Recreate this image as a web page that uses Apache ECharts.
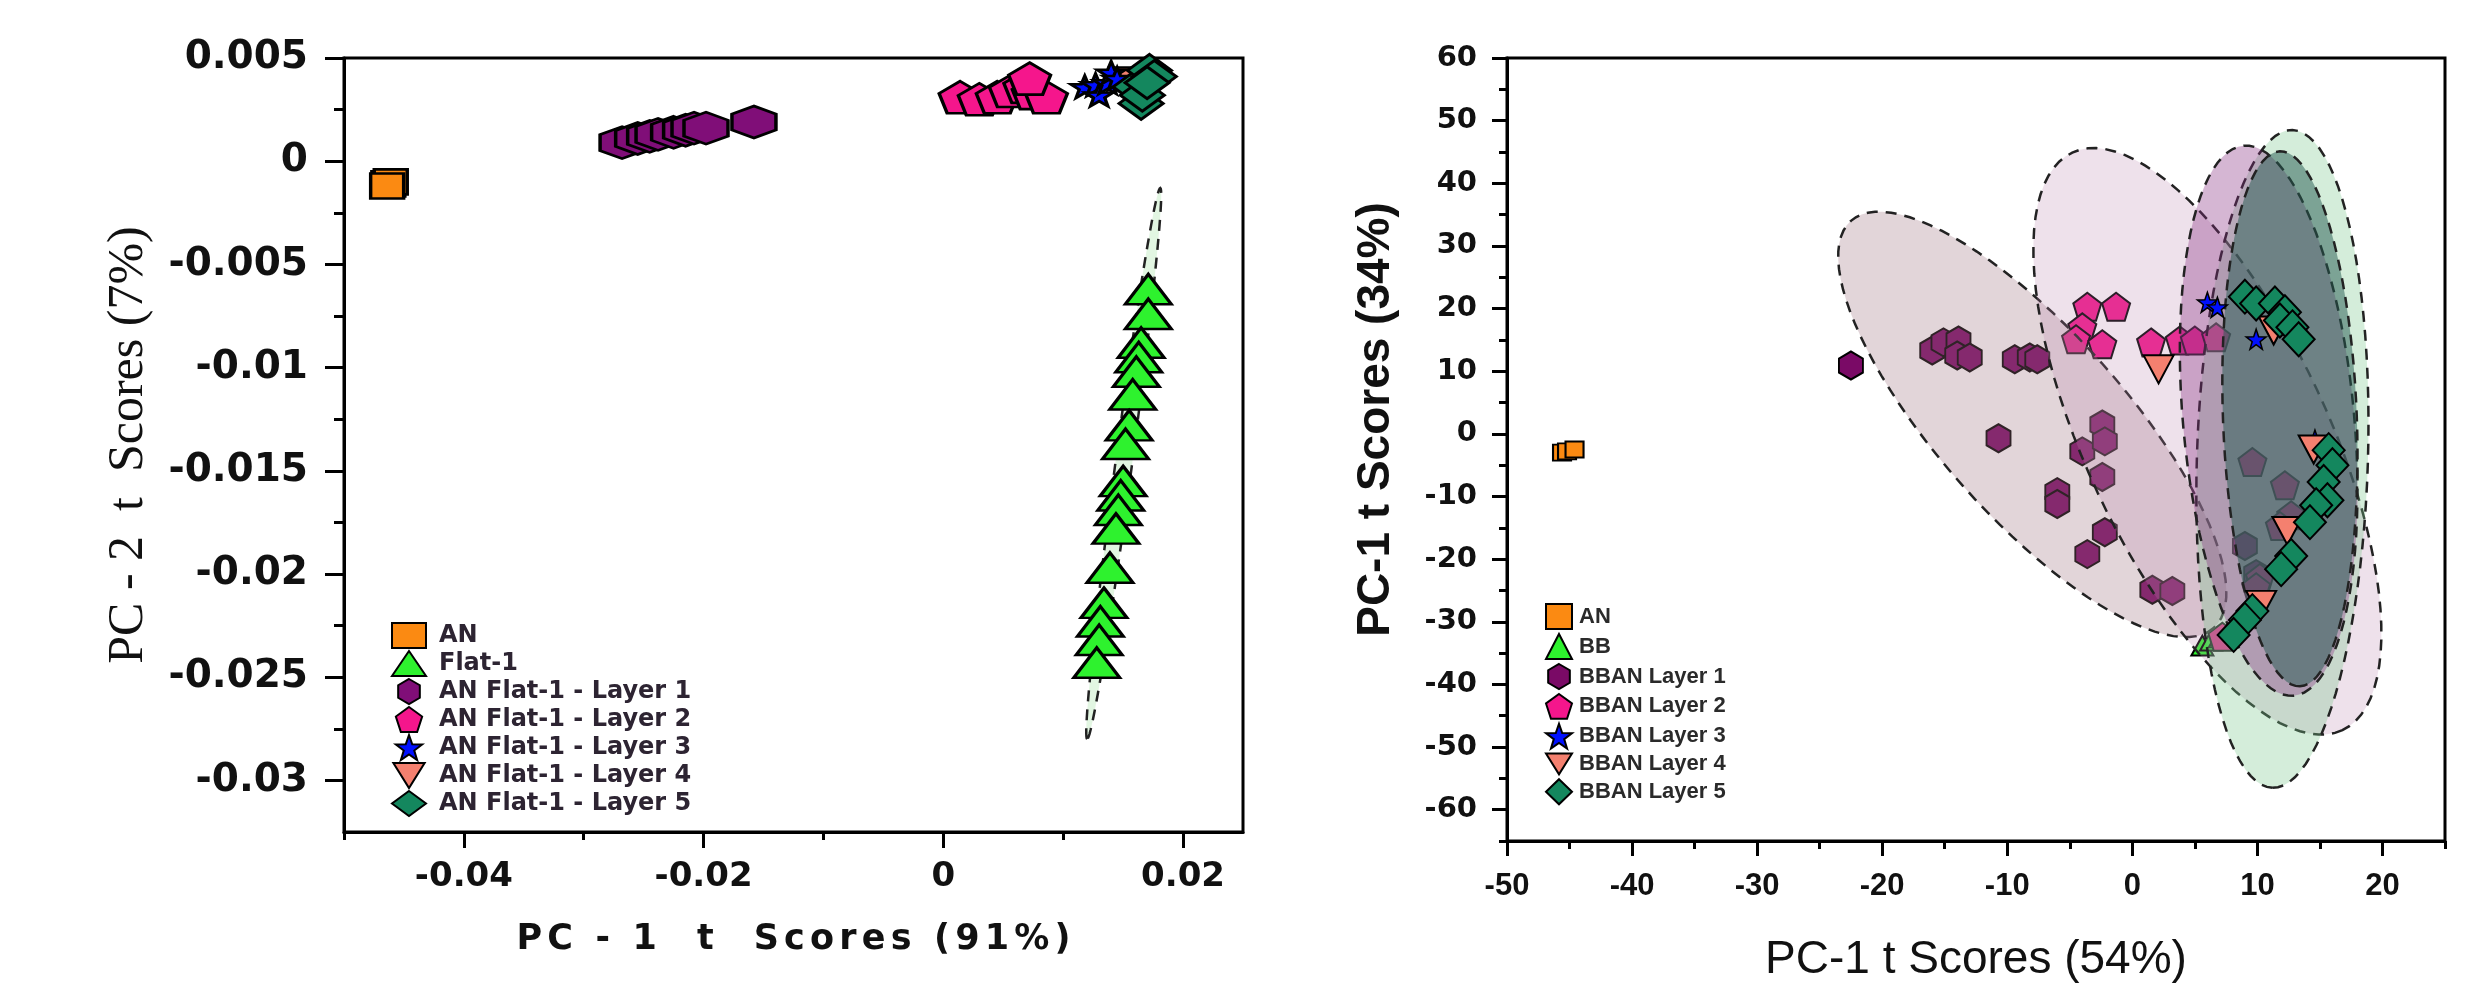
<!DOCTYPE html>
<html>
<head>
<meta charset="utf-8">
<title>PCA scores</title>
<script src="https://cdn.jsdelivr.net/npm/echarts@6.0.0/dist/echarts.min.js"></script>
<style>
  html, body { margin: 0; padding: 0; background: #fff; }
  #chart { width: 2491px; height: 988px; }
</style>
</head>
<body>
<div id="chart"></div>
<script>
// ---------- left panel : PC-1 (91%) vs PC-2 (7%) ----------
const leftNames = ['AN', 'Flat-1', 'AN Flat-1 - Layer 1', 'AN Flat-1 - Layer 2',
                   'AN Flat-1 - Layer 3', 'AN Flat-1 - Layer 4', 'AN Flat-1 - Layer 5'];
const leftXTicks = [-0.04, -0.02, 0, 0.02];
const leftXMinor = [-0.05, -0.03, -0.01, 0.01];
const leftYTicks = [0.005, 0, -0.005, -0.01, -0.015, -0.02, -0.025, -0.03];
const leftYMinor = [0.0025, -0.0025, -0.0075, -0.0125, -0.0175, -0.0225, -0.0275];

const leftAN = [[-0.0463, -0.0011], [-0.0461, -0.0010], [-0.0464, -0.0012]];
const leftFlat1 = [[0.0171, -0.0062], [0.0171, -0.0074], [0.0165, -0.0088], [0.0163, -0.0095],
  [0.0161, -0.0102], [0.0158, -0.0113], [0.0155, -0.0128], [0.0152, -0.0137], [0.0150, -0.0155],
  [0.0148, -0.0162], [0.0146, -0.0169], [0.0144, -0.0178], [0.0139, -0.0197], [0.0134, -0.0214],
  [0.0131, -0.0223], [0.0130, -0.0232], [0.0128, -0.0243]];
const leftL1 = [[-0.0268, 0.0009], [-0.0255, 0.0011], [-0.0245, 0.0012], [-0.0238, 0.0013],
  [-0.0225, 0.0014], [-0.0215, 0.0015], [-0.0208, 0.0016], [-0.0198, 0.0016], [-0.0158, 0.0019]];
const leftL2 = [[0.0014, 0.0031], [0.0030, 0.0030], [0.0045, 0.0031], [0.0056, 0.0034],
  [0.0068, 0.0036], [0.0075, 0.0033], [0.0086, 0.0031], [0.0072, 0.0040]];
const leftL3 = [[0.0118, 0.0036], [0.0127, 0.0037], [0.0130, 0.0032], [0.0137, 0.0038],
  [0.0140, 0.0043], [0.0145, 0.0040]];
const leftL4 = [[0.0150, 0.0041], [0.0172, 0.0042]];
const leftL5 = [[0.0160, 0.0036], [0.0165, 0.0028], [0.0166, 0.0032], [0.0172, 0.0044],
  [0.0176, 0.0041], [0.0170, 0.0038]];
// confidence ellipse: centre x, centre y, end of long axis x, y, width ratio
const leftEllipses = [[0.01505, -0.01465, 0.0120, -0.0280, 0.03]];

// ---------- right panel : PC-1 (54%) vs PC-1 (34%) ----------
const rightNames = ['AN', 'BB', 'BBAN Layer 1', 'BBAN Layer 2', 'BBAN Layer 3', 'BBAN Layer 4', 'BBAN Layer 5'];
const rightXTicks = [-50, -40, -30, -20, -10, 0, 10, 20];
const rightXMinor = [-45, -35, -25, -15, -5, 5, 15, 25];
const rightYTicks = [60, 50, 40, 30, 20, 10, 0, -10, -20, -30, -40, -50, -60];
const rightYMinor = [55, 45, 35, 25, 15, 5, -5, -15, -25, -35, -45, -55, -65];

const rightAN = [[-45.6, -3.0], [-45.2, -2.8], [-44.6, -2.5]];
const rightBB = [[5.6, -33.8], [6.3, -33.0], [7.0, -32.5]];
const rightL1 = [[-22.5, 10.9], [-16.0, 13.3], [-15.1, 14.6], [-13.9, 14.9], [-14.0, 12.5],
  [-13.0, 12.2], [-9.4, 11.9], [-8.2, 12.2], [-7.6, 11.9], [-10.7, -0.7], [-4.0, -2.8],
  [-2.4, 1.5], [-2.2, -1.2], [-2.4, -6.9], [-6.0, -9.3], [-6.0, -11.2], [-2.2, -15.7],
  [-3.6, -19.2], [1.6, -24.9], [3.2, -25.1], [9.0, -17.9], [9.9, -22.4]];
const rightL2 = [[-3.6, 20.3], [-1.3, 20.3], [-4.0, 17.0], [-4.5, 15.1], [-2.4, 14.3], [1.5, 14.6],
  [3.8, 14.9], [5.0, 14.9], [6.7, 15.4], [9.6, -4.5], [12.2, -8.2], [12.7, -13.0], [11.8, -14.7],
  [10.2, -23.0], [9.9, -24.5], [7.2, -32.4]];
const rightL3 = [[6.0, 21.0], [6.8, 20.2], [9.9, 15.1], [14.6, -1.0]];
const rightL4 = [[2.1, 10.3], [11.3, 16.5], [14.5, -2.5], [12.4, -15.5], [10.3, -27.3]];
const rightL5 = [[9.0, 21.9], [9.9, 20.8], [11.4, 20.8], [12.2, 19.4], [11.8, 18.1], [12.8, 17.0],
  [13.3, 15.1], [15.7, -2.6], [16.0, -5.0], [15.3, -7.7], [15.6, -10.6], [14.7, -11.4],
  [14.2, -14.1], [12.7, -19.5], [11.9, -21.6], [9.6, -28.3], [9.0, -29.7], [8.1, -32.1]];
const rightEllipses = [
  [-8.0, 1.5, 6.5, -31.0, 0.34],   // layer 1
  [6.0, -1.2, 16.8, -47.3, 0.38],  // layer 2
  [12.0, -4.0, 11.2, -56.5, 0.26], // green
  [10.9, 2.1, 12.9, -41.8, 0.31],  // purple
  [12.6, 2.4, 13.4, -40.3, 0.25]   // dark teal
];
const rightEllipseFills = ['rgba(160,115,130,0.30)', 'rgba(185,130,170,0.24)',
  'rgba(120,200,140,0.32)', 'rgba(135,45,130,0.35)', 'rgba(35,90,80,0.5)'];

// symbols
const HEX = 'path://M0,-10L8.66,-5L8.66,5L0,10L-8.66,5L-8.66,-5Z';
const PENT = 'path://M0,-10L9.51,-3.09L5.88,8.09L-5.88,8.09L-9.51,-3.09Z';
const STAR = 'path://M0,-10L2.35,-3.24L9.51,-3.09L3.8,1.24L5.88,8.09L0,4L-5.88,8.09L-3.8,1.24L-9.51,-3.09L-2.35,-3.24Z';
const DOWN = 'path://M-10,-8L10,-8L0,8Z';

const cOrange = '#fb8a12', cLime = '#2ef22e', cPurple = '#800e78', cMaroon = '#7a0a66',
      cPink = '#f5168c', cBlue = '#0010ff', cSalmon = '#f4806f', cGreen = '#14875e';

function fmt(v) { return v === 0 ? '0' : String(v); }
// wide letter spacing, done with one rich-text run per character
function spaced(str) {
  return str.split('').map(function (ch) { return '{s|' + ch + '}'; }).join('');
}

function scatter(name, data, symbol, size, color, idx, bw, z) {
  return {
    name: name, type: 'scatter', xAxisIndex: idx, yAxisIndex: idx, data: data,
    symbol: symbol, symbolSize: size, z: z,
    itemStyle: { color: color, borderColor: '#000', borderWidth: bw, opacity: 1 },
    emphasis: { disabled: true }
  };
}

function ellipseSeries(name, data, idx, fills, z) {
  return {
    name: name, type: 'custom', xAxisIndex: idx, yAxisIndex: idx, data: data, z: z, clip: true,
    silent: true,
    renderItem: function (params, api) {
      const c = api.coord([api.value(0), api.value(1)]);
      const e = api.coord([api.value(2), api.value(3)]);
      const r = api.value(4);
      const ux = e[0] - c[0], uy = e[1] - c[1];
      const vx = -uy * r, vy = ux * r;
      const pts = [];
      for (let i = 0; i < 96; i++) {
        const t = i / 96 * Math.PI * 2;
        pts.push([c[0] + ux * Math.cos(t) + vx * Math.sin(t), c[1] + uy * Math.cos(t) + vy * Math.sin(t)]);
      }
      return {
        type: 'polygon', shape: { points: pts },
        style: { fill: fills[params.dataIndex], stroke: '#222', lineWidth: 2.5, lineDash: [11, 8] }
      };
    }
  };
}

const axisBlack = { color: '#000', width: 3 };

function mainAxis(grid, min, max, pos, ticks, labelStyle, margin, tickLen) {
  return {
    gridIndex: grid, type: 'value', min: min, max: max, position: pos,
    axisLine: { show: true, onZero: false, lineStyle: axisBlack },
    axisTick: { show: true, customValues: ticks, length: tickLen, lineStyle: axisBlack },
    axisLabel: Object.assign({ customValues: ticks, formatter: fmt, margin: margin, color: '#111' }, labelStyle),
    splitLine: { show: false }
  };
}
function minorAxis(grid, min, max, pos, ticks, tickLen) {
  return {
    gridIndex: grid, type: 'value', min: min, max: max, position: pos,
    axisLine: { show: false, onZero: false },
    axisTick: { show: true, customValues: ticks, length: tickLen, lineStyle: axisBlack },
    axisLabel: { show: false }, splitLine: { show: false }
  };
}

const leftXLabel = { fontFamily: 'DejaVu Sans', fontWeight: 'bold', fontSize: 34 };
const leftYLabel = { fontFamily: 'DejaVu Sans', fontWeight: 'bold', fontSize: 39 };
const rightXLabel = { fontFamily: 'Liberation Sans', fontWeight: 'bold', fontSize: 31 };
const rightYLabel = { fontFamily: 'DejaVu Sans', fontWeight: 'bold', fontSize: 29 };
const leftXTitle = { fontFamily: 'DejaVu Sans', fontWeight: 'bold', fontSize: 35, color: '#111' };

const xAxes = [
  Object.assign(mainAxis(0, -0.05, 0.025, 'bottom', leftXTicks, leftXLabel, 28, 16), {
    name: spaced('PC - 1  t  Scores (91%)'), nameLocation: 'middle', nameGap: 90,
    nameTextStyle: Object.assign({ rich: { s: Object.assign({ padding: [0, 2.6] }, leftXTitle) } }, leftXTitle)
  }),
  minorAxis(0, -0.05, 0.025, 'bottom', leftXMinor, 8),
  Object.assign(mainAxis(1, -50, 25, 'bottom', rightXTicks, rightXLabel, 30, 15), {
    name: 'PC-1 t Scores (54%)', nameLocation: 'middle', nameGap: 96,
    nameTextStyle: { fontFamily: 'Liberation Sans', fontSize: 46, color: '#111' }
  }),
  minorAxis(1, -50, 25, 'bottom', rightXMinor, 8)
];
const yAxes = [
  Object.assign(mainAxis(0, -0.0325, 0.005, 'left', leftYTicks, leftYLabel, 36, 19), {
    name: 'PC - 2  t  Scores (7%)', nameLocation: 'middle', nameGap: 190,
    nameTextStyle: { fontFamily: 'Liberation Serif', fontSize: 50, color: '#111' }
  }),
  minorAxis(0, -0.0325, 0.005, 'left', leftYMinor, 10),
  Object.assign(mainAxis(1, -65, 60, 'left', rightYTicks, rightYLabel, 30, 15), {
    name: 'PC-1 t Scores (34%)', nameLocation: 'middle', nameGap: 108,
    nameTextStyle: { fontFamily: 'Liberation Sans', fontWeight: 'bold', fontSize: 46, color: '#111',
                     padding: [0, 0, 0, 60] }
  }),
  minorAxis(1, -65, 60, 'left', rightYMinor, 8)
];

const series = [
  ellipseSeries('Flat-1 ellipse', leftEllipses, 0, ['rgba(140,220,140,0.25)'], 1),
  scatter(leftNames[0], leftAN, 'rect', [33, 25], cOrange, 0, 3, 2),
  scatter(leftNames[1], leftFlat1, 'triangle', [46, 30], cLime, 0, 3, 2),
  scatter(leftNames[2], leftL1, HEX, [44, 32], cPurple, 0, 3, 2),
  scatter(leftNames[3], leftL2, PENT, [42, 32], cPink, 0, 3, 2),
  scatter(leftNames[5], leftL4, DOWN, [26, 18], cSalmon, 0, 3, 2),
  scatter(leftNames[4], leftL3, STAR, [28, 22], cBlue, 0, 3, 2),
  scatter(leftNames[6], leftL5, 'diamond', [44, 32], cGreen, 0, 3, 2),

  scatter(rightNames[0], rightAN, 'rect', [18, 16], cOrange, 2, 2, 2),
  scatter(rightNames[1], rightBB, 'triangle', [22, 20], cLime, 2, 2, 2),
  scatter(rightNames[2], rightL1, HEX, [24, 28], cMaroon, 2, 2, 2),
  scatter(rightNames[3], rightL2, PENT, [28, 28], cPink, 2, 2, 2),
  ellipseSeries('BBAN ellipses', rightEllipses, 2, rightEllipseFills, 3),
  scatter(rightNames[4], rightL3, STAR, [20, 20], cBlue, 2, 1.5, 4),
  scatter(rightNames[5], rightL4, DOWN, [30, 28], cSalmon, 2, 2, 4),
  scatter(rightNames[6], rightL5, 'diamond', [32, 34], cGreen, 2, 2, 4)
];

const chart = echarts.init(document.getElementById('chart'));
chart.setOption({
  backgroundColor: '#fff',
  animation: false,
  grid: [
    { left: 344, top: 58, width: 899, height: 774, show: true, borderColor: '#000', borderWidth: 3,
      outerBoundsMode: 'none' },
    { left: 1507, top: 58, width: 938, height: 783, show: true, borderColor: '#000', borderWidth: 3,
      outerBoundsMode: 'none' }
  ],
  xAxis: xAxes,
  yAxis: yAxes,
  legend: [
    { data: leftNames, orient: 'vertical', left: 386, top: 617, itemWidth: 34, itemHeight: 25, itemGap: 1,
      selectedMode: false,
      textStyle: { fontFamily: 'DejaVu Sans', fontWeight: 'bold', fontSize: 24,
                   color: '#2d2432', padding: [0, 0, 0, 8] } },
    { data: rightNames, orient: 'vertical', left: 1540, top: 598, itemWidth: 26, itemHeight: 25, itemGap: 3,
      selectedMode: false,
      textStyle: { fontFamily: 'Liberation Sans', fontWeight: 'bold', fontSize: 22,
                   color: '#2a2a2a', padding: [0, 0, 0, 2] } }
  ],
  series: series
});
</script>
</body>
</html>
